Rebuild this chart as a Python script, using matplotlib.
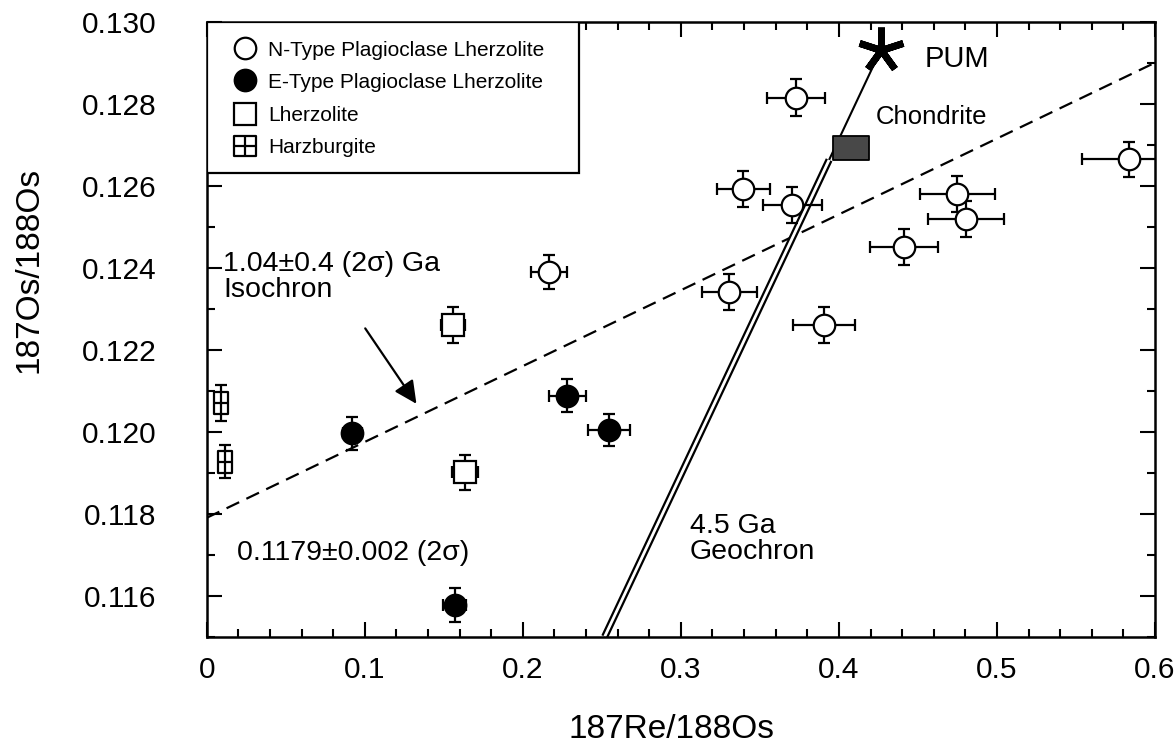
import matplotlib
matplotlib.use('Agg')
import matplotlib.pyplot as plt
from matplotlib.path import Path
from matplotlib.patches import Rectangle
from matplotlib.ticker import MultipleLocator, FuncFormatter

plt.rcParams['font.family'] = ['Liberation Sans', 'DejaVu Sans']

# N-type plagioclase lherzolite (open circles)
n_re = [0.3729, 0.3395, 0.3705, 0.2166, 0.3307, 0.3906, 0.4412, 0.4749, 0.4804, 0.5835]
n_os = [0.12815, 0.12591, 0.12553, 0.12390, 0.12341, 0.12260, 0.12450, 0.12580, 0.12518, 0.12664]
n_re_err = [0.0185, 0.0169, 0.0187, 0.0113, 0.0172, 0.0198, 0.0217, 0.0238, 0.0243, 0.0296]
n_os_err = [0.00045, 0.00044, 0.00044, 0.00042, 0.00044, 0.00044, 0.00044, 0.00044, 0.00044, 0.00043]

# E-type plagioclase lherzolite (filled circles)
e_re = [0.0921, 0.2282, 0.2547, 0.1568]
e_os = [0.11996, 0.12088, 0.12004, 0.11577]
e_re_err = [0.006, 0.0118, 0.0132, 0.007]
e_os_err = [0.0004, 0.0004, 0.0004, 0.00042]

# lherzolite (open squares)
l_re = [0.1556, 0.1634]
l_os = [0.12260, 0.11901]
l_re_err = [0.0076, 0.0084]
l_os_err = [0.00044, 0.00042]

# harzburgite (boxed cross)
h_re = [0.0090, 0.0115]
h_os = [0.12069, 0.11927]
h_os_err = [0.00044, 0.0004]

# reference reservoirs and lines
pum_re, pum_os = 0.4264, 0.1293
chon_re, chon_os = 0.4075, 0.12693
geochron_slope = 0.0819
iso_intercept = 0.1179
iso_slope = 0.0185

legend_labels = ['N-Type Plagioclase Lherzolite', 'E-Type Plagioclase Lherzolite',
                 'Lherzolite', 'Harzburgite']

YMIN, YMAX = 0.115, 0.130
XMIN, XMAX = 0.0, 0.6

fig = plt.figure(figsize=(11.76, 7.47), dpi=100)
ax = fig.add_axes([206.7 / 1176, 1 - 636.7 / 747, 948.3 / 1176, 615 / 747])
ax.set_xlim(XMIN, XMAX)
ax.set_ylim(YMIN, YMAX)

MOV, LIN, CLS = Path.MOVETO, Path.LINETO, Path.CLOSEPOLY


def boxed_cross(hw, hh):
    verts = [(-hw, -hh), (hw, -hh), (hw, hh), (-hw, hh), (-hw, -hh),
             (0, -hh), (0, hh), (-hw, 0), (hw, 0)]
    codes = [MOV, LIN, LIN, LIN, CLS, MOV, LIN, MOV, LIN]
    return Path(verts, codes)


harz_marker = boxed_cross(0.32, 0.5)
harz_legend = boxed_cross(0.5, 0.44)
chon_marker = Path([(-0.5, -0.32), (0.5, -0.32), (0.5, 0.32), (-0.5, 0.32), (-0.5, -0.32)],
                   [MOV, LIN, LIN, LIN, CLS])

err_kw = dict(fmt='none', ecolor='k', elinewidth=1.6, capsize=4.3, capthick=1.6, zorder=4)
open_circle = dict(marker='o', ms=15.5, mfc='white', mec='k', mew=1.6)
filled_circle = dict(marker='o', ms=15.5, mfc='k', mec='k', mew=1.6)
open_square = dict(marker='s', ms=15.5, mfc='white', mec='k', mew=1.6)
harz_style = dict(marker=harz_marker, ms=16, mfc='white', mec='k', mew=1.6)

# isochron
iso_x = [XMIN, XMAX]
iso_y = [iso_intercept + iso_slope * v for v in iso_x]
ax.plot(iso_x, iso_y, color='k', lw=1.6, dashes=(6.3, 3.6), zorder=2)

# geochron: double line up to the chondrite box, single line to PUM
g_x0 = pum_re - (pum_os - YMIN) / geochron_slope
g_y1 = chon_os - 0.0003
g_x1 = pum_re - (pum_os - g_y1) / geochron_slope
ax.plot([g_x0, g_x1], [YMIN, g_y1], color='k', lw=5.2, solid_capstyle='butt', zorder=2)
ax.plot([g_x0, g_x1], [YMIN, g_y1], color='white', lw=2.0, solid_capstyle='butt', zorder=2.1)
ax.plot([g_x1, pum_re], [g_y1, pum_os], color='k', lw=1.5, zorder=2)

ax.plot([chon_re], [chon_os], ls='none', marker=chon_marker, ms=26.5, mfc='#484848',
        mec='k', mew=1.3, zorder=3)
ax.plot([pum_re], [pum_os], ls='none', marker=(5, 2, 0), ms=33, mec='k', mew=5, zorder=3)

# samples
ax.errorbar(n_re, n_os, xerr=n_re_err, yerr=n_os_err, **err_kw)
ax.plot(n_re, n_os, ls='none', zorder=5, **open_circle)
ax.errorbar(e_re, e_os, xerr=e_re_err, yerr=e_os_err, **err_kw)
ax.plot(e_re, e_os, ls='none', zorder=5, **filled_circle)
ax.errorbar(l_re, l_os, xerr=l_re_err, yerr=l_os_err, **err_kw)
ax.plot(l_re, l_os, ls='none', zorder=5, **open_square)
ax.errorbar(h_re, h_os, yerr=h_os_err, **err_kw)
ax.plot(h_re, h_os, ls='none', zorder=5, **harz_style)

# annotations
ax.text(0.0103, 0.12378, '1.04\u00b10.4 (2\u03c3) Ga\nIsochron', fontsize=20.5,
        ha='left', va='center', linespacing=1.0)
ax.text(0.0192, 0.11704, '0.1179\u00b10.002 (2\u03c3)', fontsize=20.5, ha='left', va='center')
ax.text(0.3058, 0.11738, '4.5 Ga\nGeochron', fontsize=20.5, ha='left', va='center',
        linespacing=1.0)
ax.text(0.4545, 0.1291, 'PUM', fontsize=21, ha='left', va='center')
ax.text(0.4235, 0.12767, 'Chondrite', fontsize=18.5, ha='left', va='center')
ax.annotate('', xy=(0.1327, 0.12068), xytext=(0.1003, 0.12252),
            arrowprops=dict(arrowstyle='-|>,head_length=0.55,head_width=0.27',
                            mutation_scale=25, lw=1.6, color='k', shrinkA=0, shrinkB=0))

# legend box
leg_bottom = 0.12631
ax.add_patch(Rectangle((0, leg_bottom), 0.2356, YMAX - leg_bottom, facecolor='white',
                       edgecolor='k', lw=1.6, zorder=6))
leg_rows = [0.12935, 0.12857, 0.12775, 0.12697]
leg_styles = [open_circle, filled_circle, open_square,
              dict(harz_style, marker=harz_legend, ms=16)]
for ly, lab, st in zip(leg_rows, legend_labels, leg_styles):
    ax.plot([0.0242], [ly], ls='none', zorder=7, **st)
    ax.text(0.039, ly, lab, fontsize=15, ha='left', va='center_baseline', zorder=7)

# axes styling
for sp in ax.spines.values():
    sp.set_linewidth(1.8)
ax.xaxis.set_major_locator(MultipleLocator(0.1))
ax.xaxis.set_minor_locator(MultipleLocator(0.02))
ax.yaxis.set_major_locator(MultipleLocator(0.002))
ax.yaxis.set_minor_locator(MultipleLocator(0.001))
ax.xaxis.set_major_formatter(FuncFormatter(lambda v, p: '0' if abs(v) < 1e-9 else f'{v:.1f}'))
ax.yaxis.set_major_formatter(FuncFormatter(lambda v, p: f'{v:.3f}'))
ax.tick_params(which='both', direction='in', top=True, right=True, width=1.5)
ax.tick_params(which='major', length=11, labelsize=21.5)
ax.tick_params(which='minor', length=5.5)
ax.tick_params(axis='x', which='major', pad=14)
ax.tick_params(axis='y', which='major', pad=36)

fig.text(671 / 1176, 1 - 738 / 747, '187Re/188Os', fontsize=24, ha='center', va='baseline')
fig.text(38 / 1176, 1 - 270 / 747, '187Os/188Os', fontsize=24, rotation=90,
         rotation_mode='anchor', ha='center', va='baseline')

fig.savefig('out.png', dpi=100)
